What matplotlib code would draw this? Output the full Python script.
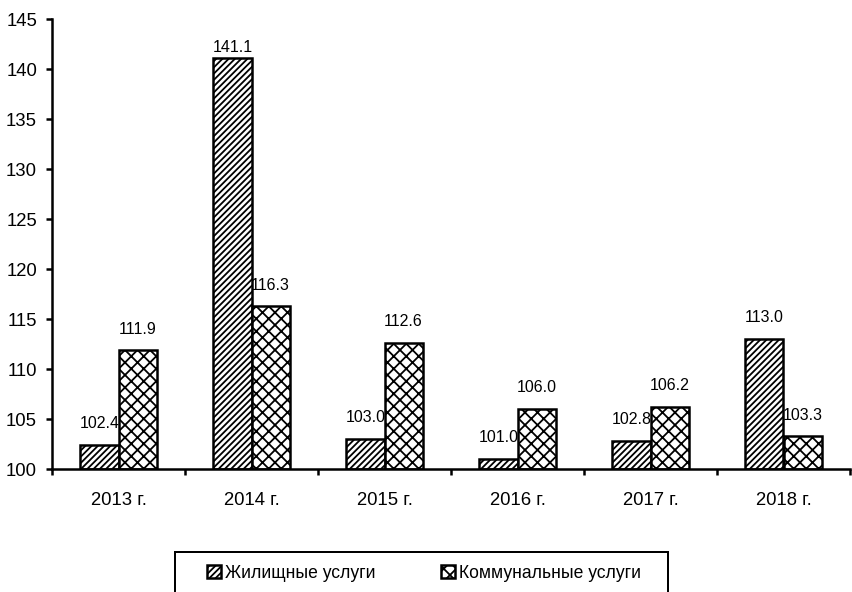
import numpy as np
import matplotlib as mpl
mpl.use("Agg")
import matplotlib.pyplot as plt
from matplotlib.patches import Rectangle

# 75 dpi keeps the hatch cell at 75 px, which gives the coarser pattern spacing
DPI = 75
W, H = 852, 592


def px(n):
    """pixels -> points at the working dpi"""
    return n * 72.0 / DPI


mpl.rcParams.update({
    "font.family": ["Liberation Sans", "DejaVu Sans"],
    "hatch.linewidth": px(1.8),
    "hatch.color": "#333333",
})

years = ["2013 г.", "2014 г.", "2015 г.", "2016 г.", "2017 г.", "2018 г."]
housing = [102.4, 141.1, 103.0, 101.0, 102.8, 113.0]
utilities = [111.9, 116.3, 112.6, 106.0, 106.2, 103.3]
series_names = ["Жилищные услуги", "Коммунальные услуги"]

BASE = 100
YMAX = 145
x = np.arange(len(years))
w = 0.287

fig = plt.figure(figsize=(W / DPI, H / DPI), dpi=DPI)
ax = fig.add_axes([52 / W, 1 - 469 / H, 798 / W, 450 / H])

b1 = ax.bar(x - w / 2, np.array(housing) - BASE, w, bottom=BASE, color="white",
            edgecolor="black", hatch="////", linewidth=px(2.5), label=series_names[0])
b2 = ax.bar(x + w / 2, np.array(utilities) - BASE, w, bottom=BASE, color="white",
            edgecolor="black", hatch="xx", linewidth=px(2.5), label=series_names[1])

# value labels sit a fixed distance above each bar, kept inside the plot area
for bars, vals in ((b1, housing), (b2, utilities)):
    for r, v in zip(bars, vals):
        ax.text(r.get_x() + r.get_width() / 2, min(v + 2.1, YMAX - 2.8), f"{v:.1f}",
                ha="center", va="center", fontsize=px(16))

ax.set_xlim(-0.5, len(years) - 0.5)
ax.set_ylim(BASE, YMAX)
ax.set_yticks(np.arange(BASE, YMAX + 1, 5))
ax.set_xticks(x)
ax.set_xticklabels(years)
ax.set_xticks(np.arange(-0.5, len(years), 1.0), minor=True)
ax.tick_params(axis="x", which="major", length=0, pad=px(23), labelsize=px(18.5))
ax.tick_params(axis="x", which="minor", length=px(6), width=px(2.5), direction="out")
ax.tick_params(axis="y", length=px(6), width=px(2.5), direction="out",
               pad=px(9), labelsize=px(18.5))

for s in ("top", "right"):
    ax.spines[s].set_visible(False)
ax.spines["left"].set_linewidth(px(2.5))
ax.spines["bottom"].set_linewidth(px(2.5))

# legend box runs past the bottom edge of the figure
fig.add_artist(Rectangle((175 / W, -0.05), 493 / W, 0.05 + 40 / H,
                         transform=fig.transFigure, facecolor="white",
                         edgecolor="black", linewidth=px(2), clip_on=False))
fig.legend(handles=[b1, b2], loc="center", ncol=2,
           bbox_to_anchor=(424 / W, 1 - 573 / H), frameon=False,
           fontsize=px(17.5), handlelength=0.8, handleheight=0.8,
           handletextpad=0.25, columnspacing=3.7, borderpad=0)

fig.savefig("out.png", dpi=DPI)
